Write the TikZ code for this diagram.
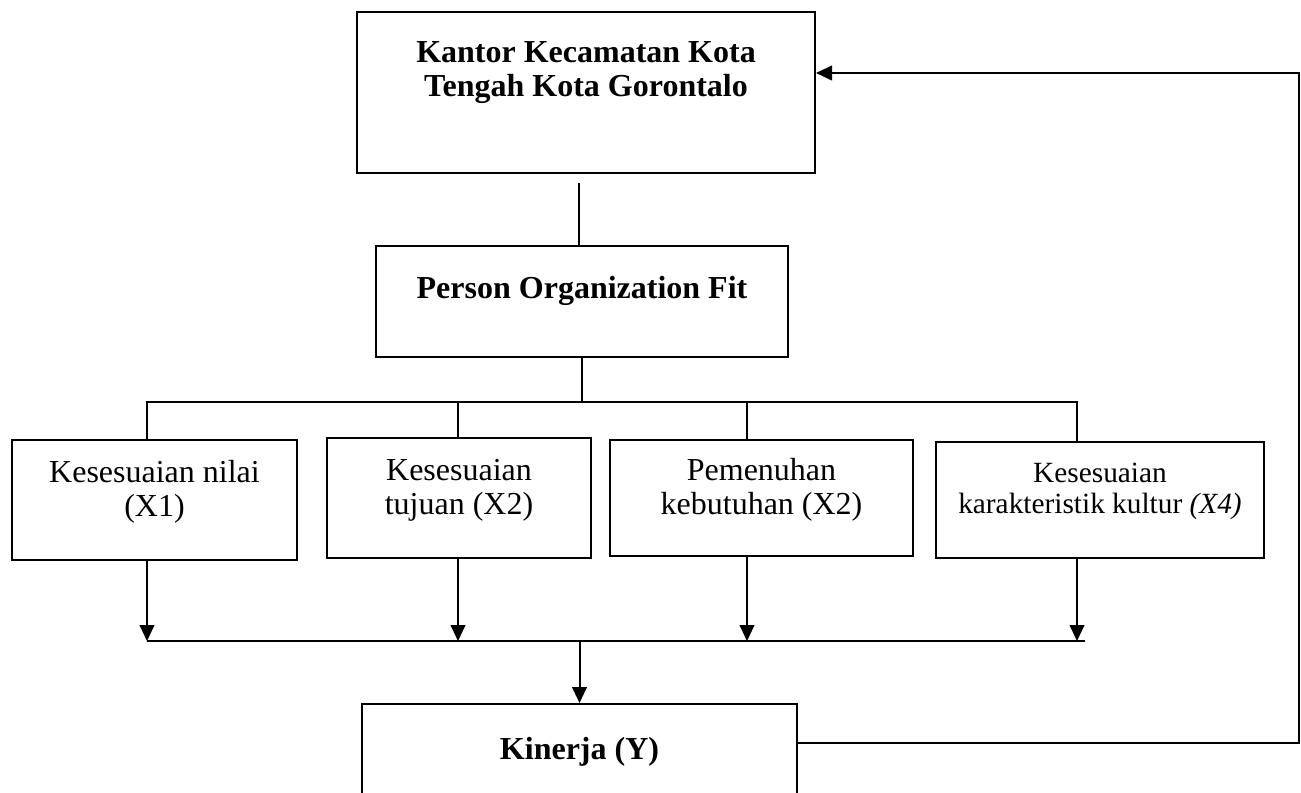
\documentclass[tikz,border=0pt]{standalone}
\usepackage{fontspec}
\setmainfont{Liberation Serif}
\usepackage{tikz}
\usetikzlibrary{arrows.meta, positioning, calc}
\tikzset{
	mainbox/.style={rectangle, draw=black, line width=0.75pt, text centered, align=center, font=\fontsize{12}{12.6}\selectfont\bfseries},
	subbox/.style ={rectangle, draw=black, line width=0.75pt, text centered, align=center, font=\fontsize{12}{12.6}\selectfont, text depth=8.5pt},
	flowarrow/.style={-{Triangle[length=6pt, width=5.5pt]}, line width=0.75pt},
	plainline/.style={line width=0.75pt},
}
\begin{document}
\begin{tikzpicture}[x=0.375pt, y=-0.375pt]
			\useasboundingbox (0,0) rectangle (1301,792);
			\clip (0,0) rectangle (1301,792);
			\node[mainbox, minimum width=171.75pt, minimum height=60.4pt, text depth=17.5pt] (kantor) at (586,92.5) {Kantor Kecamatan Kota\\Tengah Kota Gorontalo};
			\node[mainbox, minimum width=154.5pt, minimum height=41.6pt, text depth=10.5pt] (pof) at (582,301.5) {Person Organization Fit};
			\node[subbox, minimum width=106.9pt, minimum height=45pt] (x1) at (154.5,500) {Kesesuaian nilai\\(X1)};
			\node[subbox, minimum width=99pt, minimum height=45pt] (x2) at (459,498) {Kesesuaian\\tujuan (X2)};
			\node[subbox, minimum width=113.6pt, minimum height=43.5pt] (x3) at (761.5,498) {Pemenuhan\\kebutuhan (X2)};
			\node[subbox, minimum width=123pt, minimum height=43.5pt, font=\fontsize{11}{11.6}\selectfont] (x4) at (1100,500) {Kesesuaian\\karakteristik kultur \textit{(X4)}};
			\node[mainbox, minimum width=163.1pt, minimum height=36pt] (kinerja) at (579.5,752) {Kinerja (Y)};
			% branch points
			\foreach \nm/\sx in {x1/147, x2/458, x3/747, x4/1077} {
				\coordinate (t\nm) at (\sx,402);
				\coordinate (d\nm) at (\sx,641);
				\draw[flowarrow] (d\nm |- \nm.south) -- (d\nm);
			}
			\coordinate (busend) at (1085,641);
			\coordinate (kgap) at (579,183);
			\coordinate (fblow) at (1299,743);
			\coordinate (fbtop) at (1299,73);
			\draw[plainline] (kgap) -- (kgap |- pof.north);
			\draw[plainline] (pof.south) -- (pof.south |- tx1);
			\draw[plainline] (tx1 |- x1.north) -- (tx1) -- (tx4) -- (tx4 |- x4.north);
			\draw[plainline] (tx2) -- (tx2 |- x2.north);
			\draw[plainline] (tx3) -- (tx3 |- x3.north);
			\draw[plainline] (dx1) -- (busend);
			\draw[flowarrow] (kinerja.north |- busend) -- (kinerja.north);
			\draw[flowarrow] (kinerja.east |- fblow) -- (fblow) -- (fbtop) -- (kantor.east |- fbtop);
		\end{tikzpicture}
\end{document}
